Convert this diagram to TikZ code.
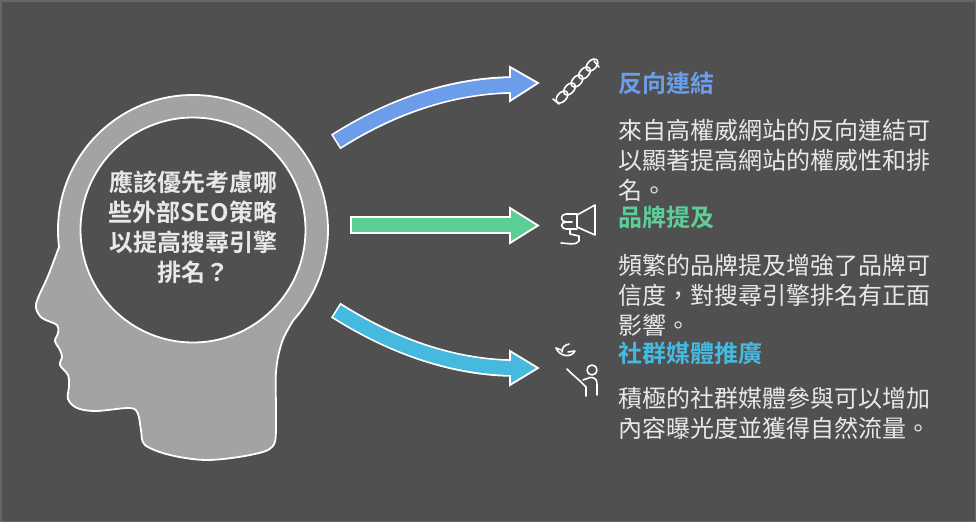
\documentclass[tikz,border=0pt]{standalone}
\usepackage{fontspec}
\newfontfamily\cjk[BoldFont={Noto Sans CJK TC Bold}]{Noto Sans CJK TC}
\definecolor{bgdark}{HTML}{505050}
\definecolor{headgray}{HTML}{A3A3A3}
\definecolor{txtlight}{HTML}{E8E8E8}
\definecolor{linkblue}{HTML}{6C9DEA}
\definecolor{brandgreen}{HTML}{5CCF97}
\definecolor{socialcyan}{HTML}{45B9DE}
\begin{document}
\begin{tikzpicture}[x=1pt,y=-1pt]
      \tikzset{outline/.style={draw=white, line width=1.8pt},
               shaftout/.style={draw=white, line width=17.5pt, shorten <=-1.6pt},
               title/.style={anchor=west, inner sep=0pt, font=\cjk\bfseries\fontsize{24}{30}\selectfont},
               body/.style={anchor=north west, inner sep=0pt, align=left, text=txtlight, font=\cjk\fontsize{24}{30}\selectfont},
               icon/.style={draw=white, line width=1.6pt, line cap=round, line join=round}}
%% Background
      	\fill[bgdark] (0,0) rectangle (976,522);
      	\draw[black!60, line width=1.5pt] (0.75,0.75) rectangle (975.25,521.25);
      	\useasboundingbox (0,0) rectangle (976,522);
%% Head
      	\filldraw[fill=headgray, outline] (293.3,320.3) arc[start angle=42, end angle=-187.2, radius=135]
      	    -- plot[smooth, tension=0.55] coordinates {(59,247) (48,276) (38,298) (36,308) (42,318) (57,325) (58,333)
      	    (55,341) (60,350) (62,357) (60,365) (68,375) (69,386) (68,399) (77,408) (96,411) (130,408) (138,414)
      	    (141,430) (145,445) (170,455) (207,460) (250,455) (273,446) (276,420) (276,372) (282,342) (293.3,320.3)} -- cycle;
      	\filldraw[fill=bgdark, outline] (193,230) circle[radius=112.5];
      	\node[align=center, text=txtlight, font=\cjk\bfseries\fontsize{24}{30}\selectfont] (question) at (193,227)
      	    {應該優先考慮哪\\些外部SEO策略\\以提高搜尋引擎\\排名？};
%% Arrow ends
      	\coordinate (t1) at (337,141);  \coordinate (h1) at (510,85);
      	\coordinate (t2) at (352,225);  \coordinate (h2) at (510,225);
      	\coordinate (t3) at (337,311);  \coordinate (h3) at (510,368);
%Arrows
		\draw[shaftout] (t1) .. controls (400,101) and (460,86) .. (h1);
		\filldraw[fill=linkblue, outline] (510,67) -- (538,83) -- (510,101) -- cycle;
		\draw[linkblue, line width=14pt] (t1) .. controls (400,101) and (460,86) .. ([xshift=2pt]h1);
		\draw[shaftout] (t2) -- (h2);
		\filldraw[fill=brandgreen, outline] (510,208) -- (538,225.5) -- (510,243) -- cycle;
		\draw[brandgreen, line width=14pt] (t2) -- ([xshift=2pt]h2);
		\draw[shaftout] (t3) .. controls (400,351) and (460,367) .. (h3);
		\filldraw[fill=socialcyan, outline] (510,351) -- (538,368) -- (510,385) -- cycle;
		\draw[socialcyan, line width=14pt] (t3) .. controls (400,351) and (460,367) .. ([xshift=2pt]h3);
%% Icons
      	\foreach \i in {0,...,4}
      	    \draw[icon] (562+7.5*\i,97-8*\i) ellipse[x radius=7, y radius=4.5, rotate=47];
      	\draw[icon] (553,99) -- (559,104);  \draw[icon] (594,61) -- (599,67);
      	\draw[icon] (577,215) -- (595,205) -- (595,235) -- (577,227) -- cycle;
      	\draw[icon] (577,214) -- (566,214) .. controls (560,214) and (560,222) .. (566,222) -- (572,222);
      	\draw[icon] (566,222) .. controls (560,222) and (560,229) .. (567,229) -- (577,229);
      	\draw[icon] (570,229) -- (570,234) -- (579,236) -- (579,241) .. controls (576,246) and (567,243) .. (561,243);
      	\draw[icon] (592,370) circle[radius=5];
      	\draw[icon] (586,396) -- (586,387) -- (580,381) -- (571,373) -- (567,369);
      	\draw[icon] (583,380) -- (590,377.5) .. controls (597,377.5) and (597,381) .. (597,386) -- (597,395);
      	\draw[icon] (556,348) .. controls (560,357) and (571,358) .. (575,351) -- (568,352);
      	\draw[icon] (562,352) .. controls (562,347) and (565,345) .. (569,344);
	\draw[icon] (556,348) -- (561,350);
%% Texts
      	\node[title, text=linkblue] (backlinks) at (618,83) {反向連結};
      	\node[body] (backlinkstext) at (618,119) {來自高權威網站的反向連結可\\以顯著提高網站的權威性和排\\名。};
      	\node[title, text=brandgreen] (mentions) at (618,218) {品牌提及};
      	\node[body] (mentionstext) at (618,254) {頻繁的品牌提及增強了品牌可\\信度，對搜尋引擎排名有正面\\影響。};
      	\node[title, text=socialcyan] (social) at (618,353) {社群媒體推廣};
      	\node[body] (socialtext) at (618,387) {積極的社群媒體參與可以增加\\內容曝光度並獲得自然流量。};
	\end{tikzpicture}
\end{document}
